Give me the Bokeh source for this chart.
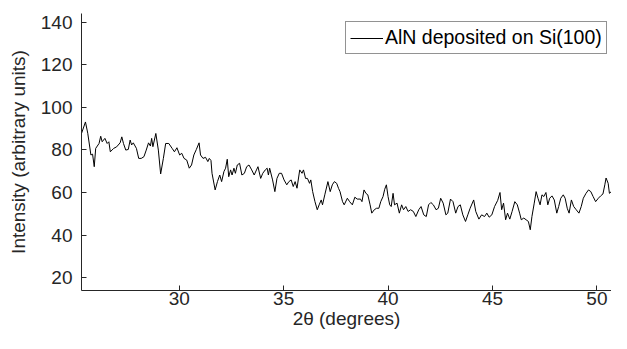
from bokeh.plotting import figure
from bokeh.models import Range1d, FixedTicker, ColumnDataSource
from bokeh.embed import file_html
from bokeh.resources import INLINE

# ---- data ----
two_theta = [
    25.32, 25.51, 25.62, 25.77, 25.85, 25.93, 26.0, 26.16, 26.24, 26.31,
    26.44, 26.55, 26.63, 26.7, 26.86, 27.0, 27.17, 27.25, 27.33, 27.44,
    27.56, 27.65, 27.72, 27.8, 27.95, 28.06, 28.18, 28.31, 28.42, 28.53,
    28.62, 28.68, 28.74, 28.88, 29.0, 29.11, 29.24, 29.35, 29.5, 29.66,
    29.77, 29.89, 30.02, 30.12, 30.23, 30.36, 30.48, 30.59, 30.7, 30.82,
    30.95, 31.02, 31.14, 31.26, 31.37, 31.44, 31.52,
    31.57, 31.72, 31.83, 31.94, 32.03, 32.14, 32.22, 32.3, 32.37, 32.46,
    32.53, 32.62, 32.69, 32.78, 32.89, 33.0, 33.12, 33.23, 33.34, 33.47,
    33.59, 33.7, 33.77, 33.9, 34.0, 34.12, 34.21, 34.27, 34.33, 34.47,
    34.58, 34.68, 34.79, 34.9, 35.02, 35.15, 35.25, 35.36, 35.46, 35.55,
    35.64, 35.77, 35.88, 35.95, 36.05, 36.14, 36.24, 36.3, 36.39, 36.5,
    36.61, 36.7, 36.8, 36.86, 36.97, 37.12, 37.23, 37.33, 37.43, 37.54,
    37.63, 37.7,
    37.82, 37.9, 38.05, 38.16, 38.29, 38.41, 38.52, 38.68, 38.75, 38.85,
    38.94, 39.03, 39.14, 39.22, 39.34, 39.45, 39.56, 39.65, 39.76, 39.84,
    39.92, 40.0, 40.08, 40.15, 40.24, 40.31, 40.43, 40.54, 40.65, 40.74,
    40.85, 40.96, 41.08, 41.21, 41.33, 41.47, 41.58, 41.71, 41.83, 41.94,
    42.05, 42.17, 42.3, 42.41, 42.52, 42.64, 42.77, 42.86, 42.99, 43.11,
    43.24, 43.35, 43.46, 43.58, 43.71, 43.82, 43.93,
    44.1, 44.2, 44.35, 44.48, 44.62, 44.73, 44.84, 44.97, 45.1, 45.25,
    45.36, 45.44, 45.53, 45.63, 45.72, 45.83, 45.94, 46.07, 46.19, 46.3,
    46.38, 46.5, 46.61, 46.72, 46.81, 46.89, 47.0, 47.09, 47.18, 47.28,
    47.37, 47.46, 47.56, 47.65, 47.74, 47.85, 47.96, 48.08, 48.17, 48.27,
    48.39, 48.48, 48.58, 48.67, 48.78, 48.89, 49.01, 49.14, 49.25, 49.35,
    49.48, 49.6, 49.71, 49.82, 49.94, 50.07, 50.18, 50.29, 50.38, 50.44,
    50.54, 50.6, 50.7,
]

intensity = [
    87.7, 93.1, 87.8, 77.6, 78.0, 72.1, 80.7, 83.0, 86.4, 83.8,
    85.4, 83.0, 83.8, 79.1, 80.7, 81.4, 83.3, 86.1, 83.0, 79.9,
    80.2, 84.6, 82.3, 83.3, 80.7, 76.0, 76.0, 76.8, 79.9, 83.3,
    81.8, 85.4, 81.5, 87.7, 79.9, 68.7, 76.0, 83.0, 83.0, 80.7,
    79.1, 81.0, 77.6, 78.4, 76.0, 75.2, 71.4, 72.9, 77.6, 80.2,
    83.3, 77.6, 76.0, 76.5, 74.5, 76.0, 75.0,
    69.0, 61.2, 65.1, 68.2, 65.1, 69.8, 71.4, 75.6, 67.4, 70.6,
    68.2, 71.4, 69.0, 72.9, 73.7, 68.2, 69.0, 72.1, 72.9, 70.6,
    68.2, 70.6, 72.1, 66.6, 69.0, 70.6, 71.4, 68.2, 71.4, 65.9,
    60.4, 66.6, 69.0, 69.0, 65.9, 63.6, 65.1, 65.9, 62.8, 65.1,
    62.0, 70.6, 69.0, 70.6, 66.6, 66.6, 64.3, 65.9, 60.4, 55.7,
    51.9, 54.2, 56.5, 54.2, 58.9, 65.1, 60.4, 63.6, 65.1, 64.3,
    61.9, 60.4,
    55.7, 54.2, 57.3, 55.7, 54.2, 57.8, 56.9, 56.9, 55.7, 61.2,
    59.6, 58.9, 54.2, 50.3, 51.9, 52.6, 52.6, 55.7, 58.1, 61.5,
    63.6, 58.1, 54.2, 53.4, 59.6, 54.2, 55.0, 50.3, 54.2, 51.9,
    53.4, 51.1, 51.9, 51.1, 48.7, 51.9, 53.4, 49.5, 48.7, 54.2,
    55.3, 54.2, 51.9, 52.6, 57.3, 55.0, 49.5, 50.3, 56.9, 55.7,
    50.3, 53.4, 54.2, 49.5, 46.4, 49.5, 52.6,
    56.5, 51.1, 47.5, 49.5, 48.7, 50.3, 48.4, 49.5, 53.4, 56.3,
    60.0, 51.9, 55.0, 47.2, 50.3, 47.5, 51.1, 55.7, 54.2, 50.3,
    47.2, 48.0, 47.2, 46.4, 42.5, 48.7, 55.0, 60.4, 57.3, 54.2,
    58.9, 58.1, 60.0, 54.2, 57.3, 58.4, 56.5, 50.3, 53.4, 57.3,
    58.9, 57.3, 52.6, 50.3, 56.5, 53.4, 51.9, 50.3, 53.4, 57.3,
    59.6, 61.2, 60.4, 58.1, 55.7, 57.3, 58.4, 59.3, 63.6, 66.8,
    64.3, 59.6, 60.5,
]

x_ticks = [30, 35, 40, 45, 50]
y_ticks = [20, 40, 60, 80, 100, 120, 140]
series_label = "AlN deposited on Si(100)"
x_title = "2θ (degrees)"
y_title = "Intensity (arbitrary units)"

FONT = "Liberation Sans"
AX = "#262626"

source = ColumnDataSource(data=dict(x=two_theta, y=intensity))

p = figure(
    width=611, height=333,
    output_backend="svg", toolbar_location=None,
    x_range=Range1d(25.32, 50.7), y_range=Range1d(14, 144),
    min_border_left=81, min_border_right=0,
    min_border_top=13, min_border_bottom=43,
)
p.outline_line_color = None
p.grid.visible = False
p.background_fill_color = "white"
p.border_fill_color = "white"

p.line("x", "y", source=source, line_color="black", line_width=1,
       legend_label=series_label)

for ax in (p.xaxis[0], p.yaxis[0]):
    ax.axis_line_color = AX
    ax.axis_line_width = 1
    ax.major_tick_line_color = AX
    ax.major_tick_in = 5
    ax.major_tick_out = 0
    ax.minor_tick_line_color = None
    ax.major_label_text_font = FONT
    ax.major_label_text_font_size = "19px"
    ax.major_label_text_color = AX
    ax.axis_label_text_font = FONT
    ax.axis_label_text_font_size = "19px"
    ax.axis_label_text_color = AX
    ax.axis_label_text_font_style = "normal"

p.xaxis[0].ticker = FixedTicker(ticks=x_ticks)
p.yaxis[0].ticker = FixedTicker(ticks=y_ticks)
p.xaxis[0].axis_label = x_title
p.yaxis[0].axis_label = y_title
p.xaxis[0].major_label_standoff = 1
p.xaxis[0].axis_label_standoff = 0
p.yaxis[0].major_label_standoff = 9
p.yaxis[0].axis_label_standoff = 9

lg = p.legend[0]
lg.location = (264, 236)
lg.padding = 4
lg.glyph_width = 33
lg.glyph_height = 18
lg.label_height = 18
lg.label_standoff = 2
lg.border_line_color = AX
lg.border_line_width = 1
lg.background_fill_color = "white"
lg.background_fill_alpha = 1
lg.label_text_font = FONT
lg.label_text_font_size = "19.5px"
lg.label_text_color = "black"

open("out.html", "w").write(file_html(p, INLINE))
